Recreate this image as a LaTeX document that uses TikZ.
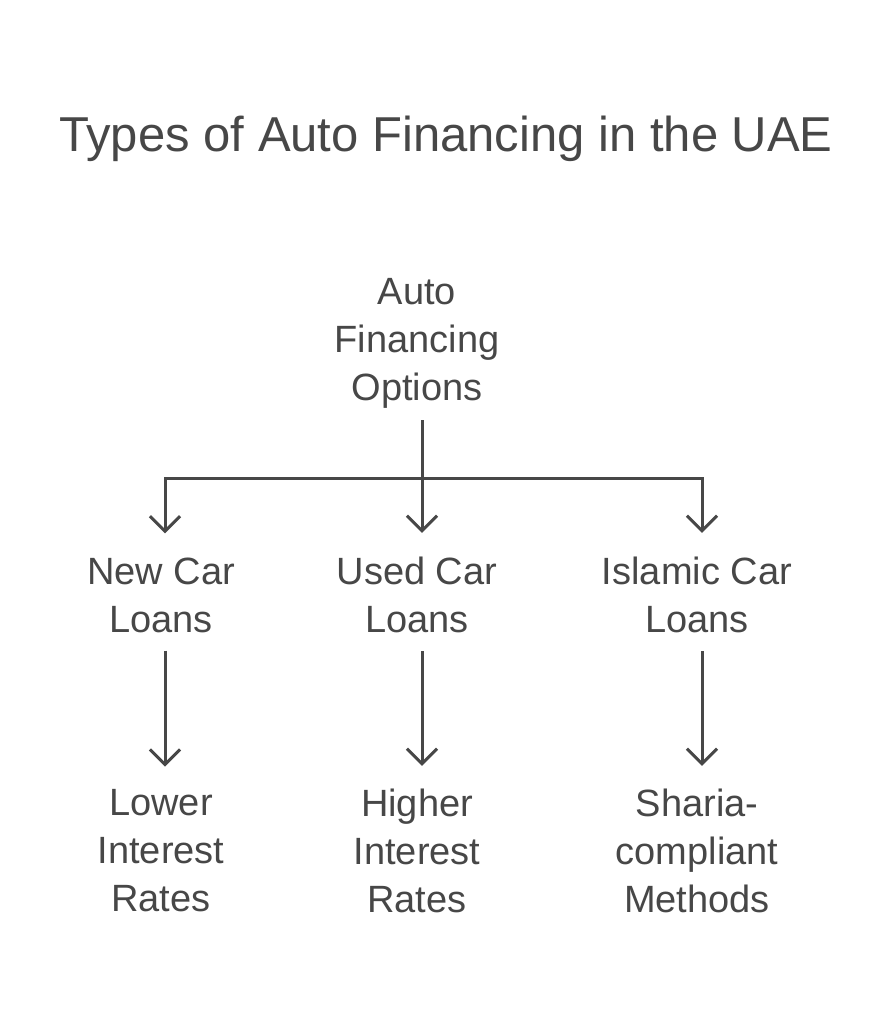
\documentclass[tikz,border=0pt]{standalone}
\usepackage{fontspec}
\setmainfont{Liberation Sans}
\usetikzlibrary{arrows.meta}
\definecolor{inkgray}{HTML}{474747}

\begin{document}
\begin{tikzpicture}[x=1pt, y=-1pt,
            nodes={text=inkgray, align=center, inner sep=0pt, font=\fontsize{38}{48}\selectfont},
            link/.style={draw=inkgray, line width=3pt, -{Straight Barb[length=15pt, width=30pt]}}]
        \useasboundingbox (0,0) rectangle (892,1020);
        \node (title) at (446,139) {\fontsize{49}{58}\selectfont Types of Auto Financing in the UAE};
        \node (root) at (417,343) {Auto\\Financing\\Options};
        \node (newc) at (161,595) {New Car\\Loans};
        \node (usedc) at (417,595) {Used Car\\Loans};
        \node (islc) at (697,595) {Islamic Car\\Loans};
        \node (lower) at (161,851) {Lower\\Interest\\Rates};
        \node (higher) at (417,851) {Higher\\Interest\\Rates};
        \node (sharia) at (697,851) {Sharia-\\compliant\\Methods};
        \coordinate (bar) at (422,478);
        % branches from the root
        \draw[link] ([xshift=5pt, yshift=-12pt]root.south) -- ([xshift=5pt, yshift=24pt]usedc.north);
        \draw[link] (bar) -| ([xshift=4pt, yshift=24pt]newc.north);
        \draw[link] (bar) -| ([xshift=5pt, yshift=24pt]islc.north);
        % second level
        \draw[link] ([xshift=4pt, yshift=-18pt]newc.south) -- ([xshift=4pt, yshift=23pt]lower.north);
        \draw[link] ([xshift=5pt, yshift=-18pt]usedc.south) -- ([xshift=5pt, yshift=23pt]higher.north);
        \draw[link] ([xshift=5pt, yshift=-18pt]islc.south) -- ([xshift=5pt, yshift=23pt]sharia.north);
    \end{tikzpicture}
\end{document}
